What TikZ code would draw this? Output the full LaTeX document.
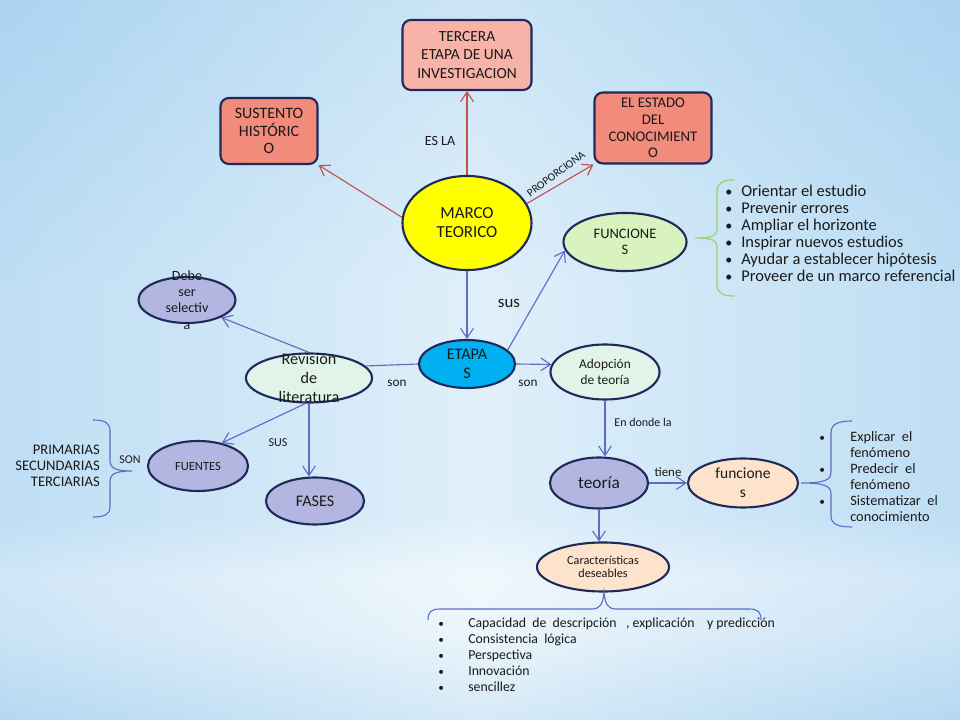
\documentclass[tikz,border=0pt]{standalone}
\usepackage{fontspec}
\setmainfont{Carlito}
\usetikzlibrary{shapes.geometric,arrows.meta}

\definecolor{navy}{HTML}{1F2A5A}
\definecolor{redline}{HTML}{C0504D}
\definecolor{blueline}{HTML}{5A6EC6}
\definecolor{salmonA}{HTML}{F8B3A8}
\definecolor{salmonB}{HTML}{F28B7C}
\definecolor{yel}{HTML}{FFFF00}
\definecolor{greenfill}{HTML}{D8F3C0}
\definecolor{mint}{HTML}{E2F4EA}
\definecolor{lav}{HTML}{B3B6E0}
\definecolor{cyanfill}{HTML}{00B0F0}
\definecolor{peach}{HTML}{FDE2CC}
\definecolor{bracegreen}{HTML}{9CD36E}
\definecolor{txt}{HTML}{1A1A1A}
\definecolor{bgtop}{RGB}{188,221,243}
\definecolor{bgmid}{RGB}{224,240,250}
\definecolor{bgglow}{RGB}{246,250,253}
\definecolor{bgbot}{RGB}{205,230,246}
\definecolor{bgedge}{RGB}{150,200,238}

\pgfdeclareverticalshading{bgshade}{100bp}{color(0bp)=(bgbot); color(25bp)=(bgbot); color(31bp)=(bgglow); color(35bp)=(white); color(39bp)=(bgmid); color(55bp)=(bgmid); color(75bp)=(bgtop); color(100bp)=(bgtop)}

\begin{document}
\begin{tikzpicture}[x=0.025cm, y=-0.025cm,
  box/.style={draw=navy, line width=1.5pt, rounded corners=6pt, fill=#1},
  oval/.style={draw=navy, line width=1.5pt, ellipse, fill=#1, inner sep=0pt},
  lbl/.style={text=txt, align=center, inner sep=0pt},
  listtext/.style={text=txt, inner sep=0pt, anchor=west, text height=1.6ex, text depth=0.4ex},
  redarrow/.style={draw=redline, line width=0.8pt, -{Straight Barb[length=2.4mm,width=3.2mm]}},
  bluearrow/.style={draw=blueline, line width=0.8pt, -{Straight Barb[length=2.4mm,width=3.2mm]}}]

% Background
\useasboundingbox (0,0) rectangle (960,720);
\shade[shading=bgshade] (0,0) rectangle (960,720);
\shade[left color=bgedge, right color=bgedge, middle color=bgmid, opacity=0.45] (0,0) rectangle (960,720);

% Top boxes
\node[box=salmonA, minimum width=3.225cm, minimum height=1.75cm] (tercera) at (467,55) {};
\node[lbl, font=\fontsize{11}{13}\selectfont] (tercera-t) at (tercera) {TERCERA\\ETAPA DE UNA\\INVESTIGACION};
\node[box=salmonB, minimum width=2.425cm, minimum height=1.65cm] (sustento) at (269,131) {};
\node[lbl, font=\fontsize{11.3}{12.6}\selectfont] (sustento-t) at (sustento) {SUSTENTO\\HISTÓRIC\\O};
\node[box=salmonB, minimum width=2.925cm, minimum height=1.775cm] (estado) at (653,128) {};
\node[lbl, font=\fontsize{10.5}{11.8}\selectfont] (estado-t) at (estado) {EL ESTADO\\DEL\\CONOCIMIENT\\O};

% Ellipses
\node[oval=yel, minimum width=3.225cm, minimum height=2.35cm] (marco) at (467,223) {};
\node[lbl, font=\fontsize{12}{13.5}\selectfont] (marco-t) at (marco) {MARCO\\TEORICO};
\node[oval=greenfill, minimum width=3.075cm, minimum height=1.45cm] (funciones) at (625,242) {};
\node[lbl, font=\fontsize{10.3}{11.5}\selectfont] (funciones-t) at (funciones) {FUNCIONE\\S};
\node[oval=lav, minimum width=2.425cm, minimum height=1.15cm] (debe) at (187,300) {};
\node[lbl, font=\fontsize{10}{11.6}\selectfont] (debe-t) at (debe) {Debe\\ser\\selectiv\\a};
\node[oval=cyanfill, minimum width=2.4cm, minimum height=1.2cm] (etapas) at (467,364) {};
\node[lbl, font=\fontsize{11.5}{14}\selectfont] (etapas-t) at (etapas) {ETAPA\\S};
\node[oval=mint, minimum width=3.15cm, minimum height=1.225cm] (revision) at (309,378) {};
\node[lbl, font=\fontsize{11.5}{13.2}\selectfont] (revision-t) at (revision) {Revisión\\de\\literatura};
\node[oval=mint, minimum width=2.725cm, minimum height=1.375cm] (adopcion) at (605,372) {};
\node[lbl, font=\fontsize{9.5}{11.4}\selectfont] (adopcion-t) at (adopcion) {Adopción\\de teoría};
\node[oval=lav, minimum width=2.5cm, minimum height=1.25cm] (fuentes) at (198,466) {};
\node[lbl, font=\fontsize{8.9}{10}\selectfont] (fuentes-t) at (fuentes) {FUENTES};
\node[oval=lav, minimum width=2.45cm, minimum height=1.175cm] (fases) at (315,501) {};
\node[lbl, font=\fontsize{11.5}{13}\selectfont] (fases-t) at (fases) {FASES};
\node[oval=lav, minimum width=2.45cm, minimum height=1.275cm] (teoria) at (599,483) {};
\node[lbl, font=\fontsize{12.3}{14}\selectfont] (teoria-t) at (teoria) {teoría};
\node[oval=peach, minimum width=2.75cm, minimum height=1.225cm] (funcs) at (743,483) {};
\node[lbl, font=\fontsize{11}{13.5}\selectfont] (funcs-t) at (funcs) {funcione\\s};
\node[oval=peach, minimum width=3.3cm, minimum height=1.225cm] (caract) at (603,567) {};
\node[lbl, font=\fontsize{8.7}{9.2}\selectfont] (caract-t) at (caract) {Características\\deseables};

% Draw connectors
\draw[redarrow] (marco) -- (tercera);
\draw[redarrow] (marco.175) -- (sustento.south east);
\draw[redarrow] (marco.18) -- (estado.south west);
\draw[bluearrow] (marco) -- (etapas);
\draw[bluearrow] (etapas.19) -- (funciones.188);
\draw[blueline, line width=0.8pt] (etapas.west) -- (revision.12);
\draw[bluearrow] (etapas.east) -- (adopcion.172);
\draw[bluearrow] (revision.north) -- (debe.333);
\draw[bluearrow] (revision.262) -- (fuentes.44);
\draw[bluearrow] (revision.south) -- (revision.south |- fases.north);
\draw[bluearrow] (adopcion.south) -- (adopcion.south |- teoria.north);
\draw[bluearrow] (teoria.east) -- (funcs.west);
\draw[bluearrow] (teoria.south) -- (teoria.south |- caract.north);

% Label connectors
\node[lbl, font=\fontsize{10}{11}\selectfont] (esla) at (440,141) {ES LA};
\node[lbl, font=\fontsize{8}{9}\selectfont, rotate=36] (proporciona) at (556,174) {PROPORCIONA};
\node[lbl, font=\fontsize{12}{13}\selectfont] (sus) at (509,303) {sus};
\node[lbl, font=\fontsize{9.4}{10}\selectfont] (son-l) at (397,383) {son};
\node[lbl, font=\fontsize{9.4}{10}\selectfont] (son-r) at (528,383) {son};
\node[lbl, font=\fontsize{8.6}{10}\selectfont] (sus-f) at (278,443) {SUS};
\node[lbl, font=\fontsize{8.5}{10}\selectfont] (son-f) at (130,460) {SON};
\node[lbl, font=\fontsize{8.5}{10}\selectfont] (dondela) at (643,422) {En donde la};
\node[lbl, font=\fontsize{9.2}{10}\selectfont] (tiene) at (668,472) {tiene};

% Braces
\draw[bracegreen, line width=0.9pt] (735,180) .. controls (722,180) and (717,183) .. (717,192) -- (717,228) .. controls (717,236) and (712,238) .. (695,238) .. controls (712,238) and (717,240) .. (717,248) -- (717,284) .. controls (717,293) and (722,296) .. (735,296);
\draw[blueline, line width=0.8pt] (852,421) .. controls (838,421) and (831,424) .. (831,433) -- (831,472) .. controls (831,480) and (825,483) .. (801,483) .. controls (825,483) and (831,486) .. (831,494) -- (831,516) .. controls (831,524) and (838,527) .. (852,527);
\draw[blueline, line width=0.8pt] (93,420) .. controls (105,420) and (110,423) .. (110,431) -- (110,460) .. controls (110,468) and (115,471) .. (132,471) .. controls (115,471) and (110,474) .. (110,482) -- (110,507) .. controls (110,514) and (105,517) .. (93,517);
\draw[blueline, line width=0.8pt] (428,620) .. controls (428,612) and (431,609) .. (440,609) -- (592,609) .. controls (600,609) and (603,604) .. (604,592) .. controls (605,604) and (608,609) .. (616,609) -- (749,609) .. controls (758,609) and (761,612) .. (761,620);

% Lists
\foreach \y/\entry in {192/Orientar el estudio, 209/Prevenir errores, 226/Ampliar el horizonte, 243/Inspirar nuevos estudios, 260/Ayudar a establecer hipótesis, 277/Proveer de un marco referencial} {
  \node[listtext, font=\fontsize{10}{10}\selectfont] (fb\y) at (725,\y) {\textbullet};
  \node[listtext, font=\fontsize{11.7}{12}\selectfont] (fl\y) at (741,\y) {\entry};
}
\node[lbl, align=right, anchor=east, font=\fontsize{10.4}{11.4}\selectfont] (fuentes-l) at (100,466) {PRIMARIAS\\SECUNDARIAS\\TERCIARIAS};
\foreach \y in {437,469,501}
  \node[listtext, font=\fontsize{8}{10}\selectfont] (tb\y) at (819,\y) {\textbullet};
\foreach \y/\entry in {437/Explicar\ \ el, 453/fenómeno, 469/Predecir\ \ el, 485/fenómeno, 501/Sistematizar\ \ el, 517/conocimiento}
  \node[listtext, font=\fontsize{10.2}{11}\selectfont] (tl\y) at (850,\y) {\entry};
\foreach \y/\entry in {623/{Capacidad\ \ de\ \ descripción\ \ \ , explicación\ \ \ \ y predicción}, 639/Consistencia\ \ lógica, 655/Perspectiva, 671/Innovación, 687/sencillez} {
  \node[listtext, font=\fontsize{8}{10}\selectfont] (cb\y) at (438,\y) {\textbullet};
  \node[listtext, font=\fontsize{9.8}{10}\selectfont] (cl\y) at (468,\y) {\entry};
}

\end{tikzpicture}
\end{document}
